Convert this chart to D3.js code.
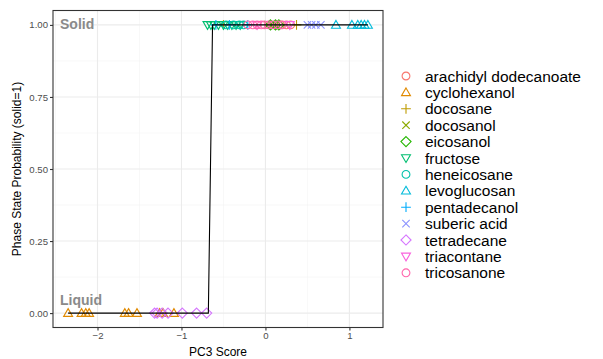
<!DOCTYPE html>
<html><head><meta charset="utf-8">
<script src="https://cdn.jsdelivr.net/npm/d3@7"></script>
<style>body{margin:0;background:#fff;} text{font-family:"Liberation Sans",Arial,Helvetica,sans-serif;}</style>
</head><body><svg id="c" width="603" height="359"></svg>
<script>
const compounds = ["arachidyl dodecanoate","cyclohexanol","docosane","docosanol","eicosanol","fructose","heneicosane","levoglucosan","pentadecanol","suberic acid","tetradecane","triacontane","tricosanone"];
const colors = ["#F8766D","#E18A00","#BE9C00","#8CAB00","#24B700","#00BE70","#00C1AB","#00BBDA","#00ACFC","#8B93FF","#D575FE","#F962DD","#FF65AC"];
const shapes = ["circle","triangle","plus","cross","diamond","triangleDown","circle","triangle","plus","cross","diamond","triangleDown","circle"];
const phaseState = [1,0,1,1,1,1,1,1,1,1,0,1,1];
const pc3Scores = [
  [0.12,0.18,0.25,0.30],
  [-2.35,-2.19,-2.14,-2.10,-1.675,-1.63,-1.53,-1.26,-1.22,-1.09],
  [-0.50,0.37],
  [0.03,0.08,0.13],
  [0.06,0.12,0.16],
  [-0.69,-0.65,-0.61,-0.56,-0.50,-0.45,-0.40,-0.35,-0.30],
  [-0.47,-0.38,-0.31,-0.26],
  [0.84,1.03,1.10,1.14,1.18,1.22],
  [-0.59,-0.43,-0.21],
  [0.50,0.55,0.60,0.66],
  [-1.32,-1.29,-1.23,-1.16,-0.99,-0.82,-0.70],
  [-0.10,0.29],
  [-0.21,-0.15,-0.10,-0.05,-0.01,0.04,0.09,0.15,0.20]
];
const curveX = [-2.35,-0.68,-0.63,1.22];
const curveY = [0,0,1,1];
const xTicks = [-2,-1,0,1];
const yTicks = [0,0.25,0.5,0.75,1];
const yTickLabels = ["0.00","0.25","0.50","0.75","1.00"];

const svg = d3.select("#c");
const L=53,R=383,T=10.5,B=327.5;
const x = d3.scaleLinear().domain([-2.53,1.40]).range([L,R]);
const y = d3.scaleLinear().domain([-0.05,1.05]).range([B,T]);

// grid
const g = svg.append("g");
const xMinor=[-2.5,-1.5,-0.5,0.5], yMinor=[0.125,0.375,0.625,0.875];
xMinor.forEach(v=>g.append("line").attr("x1",x(v)).attr("x2",x(v)).attr("y1",T).attr("y2",B).attr("stroke","#F2F2F2").attr("stroke-width",0.55));
yMinor.forEach(v=>g.append("line").attr("y1",y(v)).attr("y2",y(v)).attr("x1",L).attr("x2",R).attr("stroke","#F2F2F2").attr("stroke-width",0.55));
xTicks.forEach(v=>g.append("line").attr("x1",x(v)).attr("x2",x(v)).attr("y1",T).attr("y2",B).attr("stroke","#EBEBEB").attr("stroke-width",1.1));
yTicks.forEach(v=>g.append("line").attr("y1",y(v)).attr("y2",y(v)).attr("x1",L).attr("x2",R).attr("stroke","#EBEBEB").attr("stroke-width",1.1));

function shapePath(s, r){
  switch(s){
    case "circle": return `M${-r},0A${r},${r} 0 1,0 ${r},0A${r},${r} 0 1,0 ${-r},0Z`;
    case "triangle": { const h=r*1.15; return `M0,${-h}L${h},${h*0.73}L${-h},${h*0.73}Z`; }
    case "triangleDown": { const h=r*1.15; return `M0,${h}L${h},${-h*0.73}L${-h},${-h*0.73}Z`; }
    case "plus": { const h=r*1.25; return `M${-h},0L${h},0M0,${-h}L0,${h}`; }
    case "cross": { const h=r*0.95; return `M${-h},${-h}L${h},${h}M${-h},${h}L${h},${-h}`; }
    case "diamond": { const h=r*1.3; return `M0,${-h}L${h},0L0,${h}L${-h},0Z`; }
  }
}

// annotations
svg.append("text").attr("x",60).attr("y",29).attr("font-size",14).attr("font-weight","bold").attr("fill","#8A8A8A").text("Solid");
svg.append("text").attr("x",60).attr("y",305).attr("font-size",14).attr("font-weight","bold").attr("fill","#8A8A8A").text("Liquid");

// points
const pts = svg.append("g");
compounds.forEach((c,i)=>{
  pc3Scores[i].forEach(v=>{
    pts.append("path").attr("d",shapePath(shapes[i],3.9))
      .attr("transform",`translate(${x(v)},${y(phaseState[i])})`)
      .attr("fill","none").attr("stroke",colors[i]).attr("stroke-width",1.1);
  });
});

// curve
const line = d3.line().x((d,i)=>x(curveX[i])).y((d,i)=>y(curveY[i]));
svg.append("path").attr("d",line(curveX)).attr("fill","none").attr("stroke","#000").attr("stroke-width",1.1);

// border
svg.append("rect").attr("x",L).attr("y",T).attr("width",R-L).attr("height",B-T).attr("fill","none").attr("stroke","#333333").attr("stroke-width",1.1);

// axes
const xa = svg.append("g").attr("transform",`translate(0,${B})`)
  .call(d3.axisBottom(x).tickValues(xTicks).tickSize(3).tickPadding(2).tickFormat(d=>d<0?"\u2212"+Math.abs(d):d));
const ya = svg.append("g").attr("transform",`translate(${L},0)`)
  .call(d3.axisLeft(y).tickValues(yTicks).tickSize(3).tickPadding(2).tickFormat((d,i)=>yTickLabels[i]));
[xa,ya].forEach(a=>{
  a.select(".domain").remove();
  a.selectAll(".tick line").attr("stroke","#333333").attr("stroke-width",1.1);
  a.selectAll(".tick text").attr("fill","#4D4D4D").attr("font-size",9.6).attr("font-family","Liberation Sans, Arial, sans-serif");
});

svg.append("text").attr("x",(L+R)/2).attr("y",356).attr("text-anchor","middle").attr("font-size",12).attr("fill","#000").text("PC3 Score");
svg.append("text").attr("transform",`translate(21,${(T+B)/2}) rotate(-90)`).attr("text-anchor","middle").attr("font-size",12).attr("fill","#000").text("Phase State Probability (solid=1)");

// legend
const lg = svg.append("g");
compounds.forEach((c,i)=>{
  const yy = 76 + i*16.4;
  lg.append("path").attr("d",shapePath(shapes[i],3.9)).attr("transform",`translate(406,${yy})`)
    .attr("fill","none").attr("stroke",colors[i]).attr("stroke-width",1.1);
  lg.append("text").attr("x",425).attr("y",yy+5.5).attr("font-size",15.5).attr("fill","#000").text(c);
});
</script></body></html>
